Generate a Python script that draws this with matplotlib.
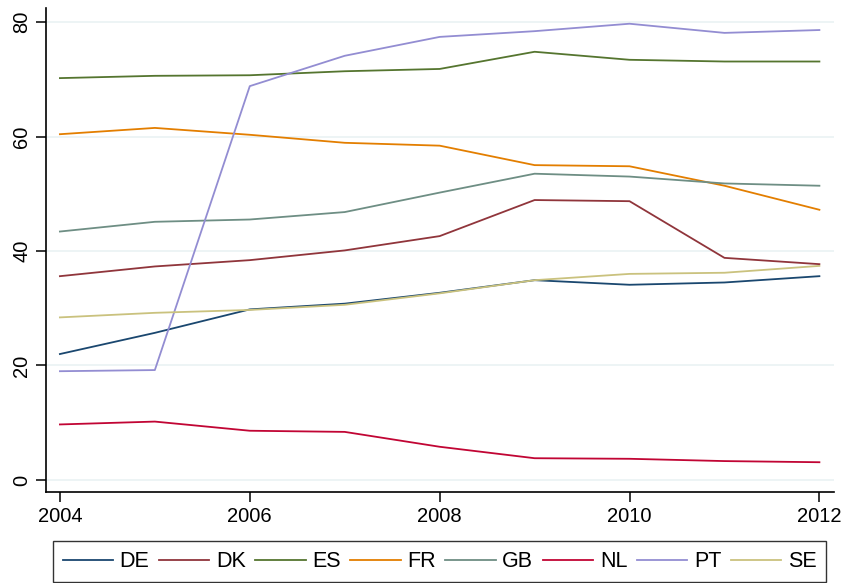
import matplotlib.pyplot as plt
from matplotlib.lines import Line2D

plt.rcParams['font.family'] = ['Liberation Sans', 'DejaVu Sans']

years = [2004, 2005, 2006, 2007, 2008, 2009, 2010, 2011, 2012]

DE = [22.0, 25.7, 29.8, 30.8, 32.7, 34.9, 34.1, 34.5, 35.6]
DK = [35.6, 37.3, 38.4, 40.1, 42.6, 48.9, 48.7, 38.8, 37.7]
ES = [70.2, 70.6, 70.7, 71.4, 71.8, 74.8, 73.4, 73.1, 73.1]
FR = [60.4, 61.5, 60.3, 58.9, 58.4, 55.0, 54.8, 51.4, 47.2]
GB = [43.4, 45.1, 45.5, 46.8, 50.2, 53.5, 53.0, 51.8, 51.4]
NL = [9.7, 10.2, 8.6, 8.4, 5.8, 3.8, 3.7, 3.3, 3.1]
PT = [19.0, 19.2, 68.8, 74.1, 77.4, 78.4, 79.7, 78.1, 78.6]
SE = [28.4, 29.2, 29.7, 30.6, 32.6, 34.9, 36.0, 36.2, 37.4]

countries = ['DE', 'DK', 'ES', 'FR', 'GB', 'NL', 'PT', 'SE']
series = [DE, DK, ES, FR, GB, NL, PT, SE]
colors = ['#1a476f', '#90353b', '#55752f', '#e37e00',
          '#6e8e84', '#c10534', '#938dd2', '#cac27e']

fig = plt.figure(figsize=(8.48, 5.83), dpi=100)
ax = fig.add_axes([0.0542, 0.1561, 0.9292, 0.8302])

for vals, c in zip(series, colors):
    ax.plot(years, vals, color=c, lw=1.3)

ax.set_xlim(2003.853, 2012.153)
ax.set_ylim(-2.1, 82.45)
ax.set_xticks([2004, 2006, 2008, 2010, 2012])
ax.set_yticks([0, 20, 40, 60, 80])
ax.grid(axis='y', color='#eaf2f3', lw=1.2)
ax.set_axisbelow(True)
for s in ['top', 'right']:
    ax.spines[s].set_visible(False)
for s in ['left', 'bottom']:
    ax.spines[s].set_linewidth(1.2)
ax.tick_params(length=7, width=1.1, labelsize=14.5, colors='black')
for lbl in ax.get_yticklabels():
    lbl.set_rotation(90)
    lbl.set_va('center')

handles = [Line2D([], [], color=c, lw=1.3) for c in colors]
leg = fig.legend(handles, countries, loc='lower left', ncol=8,
                 bbox_to_anchor=(0.0625, 0.002, 0.9115, 0.068), mode='expand',
                 fontsize=15.5, handlelength=2.35, handletextpad=0.3,
                 fancybox=False, borderaxespad=0, borderpad=0.45)
leg.get_frame().set_edgecolor('black')
leg.get_frame().set_linewidth(1.0)

fig.savefig('out.png', dpi=100)
